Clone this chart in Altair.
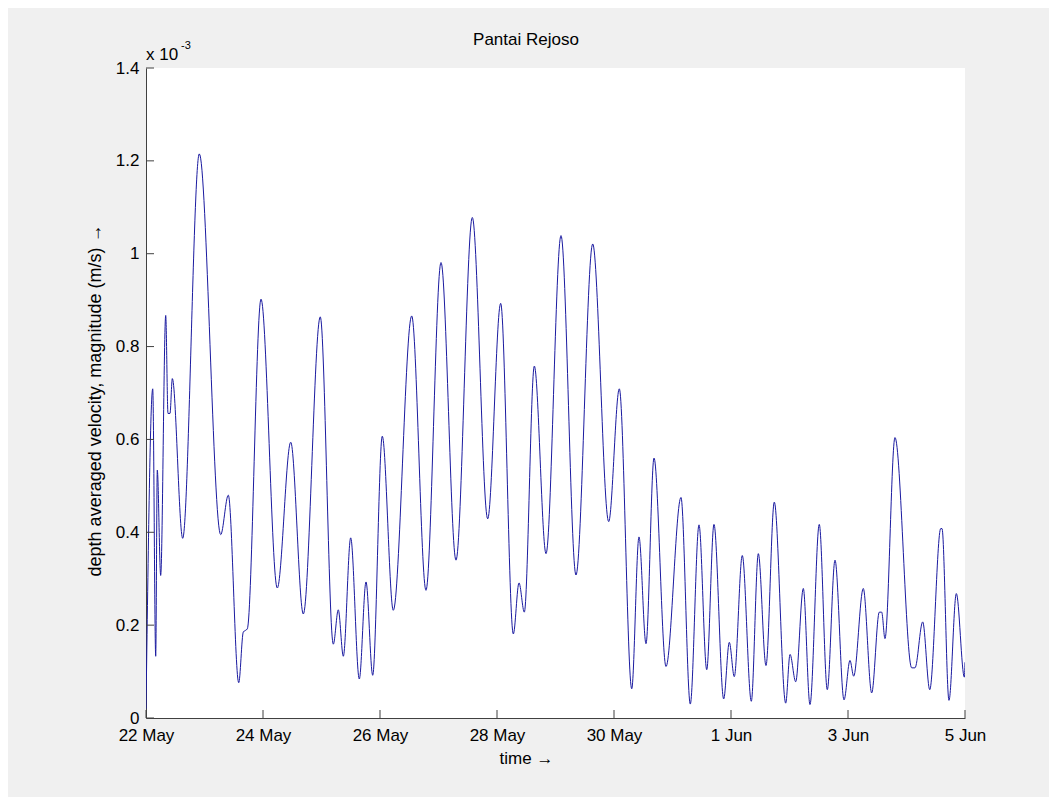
import altair as alt
import pandas as pd

# ---- data ----
start_date = "2010-05-22"
day_offset = [
    0.000, 0.115, 0.166, 0.193, 0.251, 0.337, 0.376, 0.410, 0.450, 0.627,
    0.911, 1.277, 1.407, 1.585, 1.663, 1.732, 1.966, 2.244, 2.474, 2.689,
    2.979, 3.202, 3.287, 3.373, 3.499, 3.646, 3.761, 3.875, 4.039, 4.227,
    4.542, 4.786, 5.043, 5.299, 5.578, 5.841, 6.063, 6.279, 6.376, 6.467,
    6.638, 6.838, 7.094, 7.350, 7.636, 7.909, 8.091, 8.303, 8.427, 8.547,
    8.684, 8.889, 9.145, 9.304, 9.453, 9.585, 9.709, 9.875, 9.971, 10.056,
    10.193, 10.347, 10.467, 10.598, 10.740, 10.935, 11.009, 11.106, 11.236, 11.350,
    11.509, 11.646, 11.778, 11.932, 12.034, 12.097, 12.261, 12.405, 12.535, 12.576,
    12.632, 12.803, 13.089, 13.145, 13.277, 13.397, 13.585, 13.607, 13.726, 13.852,
    13.989, 14.000,
]
velocity_e3 = [
    0.020, 0.709, 0.133, 0.534, 0.307, 0.867, 0.656, 0.656, 0.731, 0.387,
    1.215, 0.395, 0.480, 0.076, 0.185, 0.192, 0.902, 0.280, 0.594, 0.224,
    0.864, 0.159, 0.233, 0.133, 0.388, 0.084, 0.293, 0.092, 0.607, 0.232,
    0.866, 0.275, 0.981, 0.340, 1.078, 0.429, 0.893, 0.181, 0.291, 0.228,
    0.758, 0.354, 1.039, 0.308, 1.021, 0.423, 0.709, 0.063, 0.390, 0.160,
    0.560, 0.111, 0.475, 0.030, 0.416, 0.104, 0.417, 0.041, 0.163, 0.089,
    0.350, 0.036, 0.354, 0.113, 0.465, 0.032, 0.137, 0.078, 0.279, 0.029,
    0.417, 0.061, 0.340, 0.039, 0.124, 0.090, 0.279, 0.054, 0.228, 0.228,
    0.171, 0.604, 0.108, 0.108, 0.207, 0.061, 0.408, 0.408, 0.038, 0.268,
    0.088, 0.120,
]
y_tick_values = [0, 0.2, 0.4, 0.6, 0.8, 1.0, 1.2, 1.4]
x_tick_days = [0, 2, 4, 6, 8, 10, 12, 14]
title_text = "Pantai Rejoso"
x_title = "time \u2192"
y_title = "depth averaged velocity, magnitude (m/s) \u2192"
exponent_base = "x 10"
exponent_power = "-3"

# ---- tables ----
base = pd.Timestamp(start_date)
def iso(d):
    return (base + pd.Timedelta(days=d)).strftime("%Y-%m-%dT%H:%M:%S")

df = pd.DataFrame({"time": [iso(d) for d in day_offset], "v": velocity_e3})
xt = pd.DataFrame({"time": [iso(d) for d in x_tick_days]})
yt = pd.DataFrame({"v": y_tick_values})

def dt(d):
    t = base + pd.Timedelta(days=d)
    return alt.DateTime(year=t.year, month=t.month, date=t.day)

W, H = 819, 650
FONT = "Liberation Sans"
AX = "#404040"
FS = 17

x_scale = alt.Scale(domain=[dt(x_tick_days[0]), dt(x_tick_days[-1])])
y_scale = alt.Scale(domain=[0, 1.4], nice=False, zero=True)

x_axis = alt.Axis(
    values=[dt(d) for d in x_tick_days], format="%-d %b",
    labelFont=FONT, labelFontSize=FS, labelColor="black",
    labelFlush=False, labelOverlap=False, labelPadding=9,
    ticks=False, grid=False, domainColor=AX,
    title=x_title, titleFont=FONT, titleFontSize=FS,
    titleFontWeight="normal", titleColor="black", titlePadding=7,
    titleX=380,
)
y_axis = alt.Axis(
    values=y_tick_values, format=".1~f",
    labelFont=FONT, labelFontSize=FS, labelColor="black",
    labelFlush=False, labelOverlap=False, labelPadding=7,
    ticks=False, grid=False, domainColor=AX,
    title=y_title, titleFont=FONT, titleFontSize=18,
    titleFontWeight="normal", titleColor="black", titlePadding=11,
    titleY=332,
)

line = alt.Chart(df).mark_line(
    color="#1a1aa0", strokeWidth=1, interpolate="monotone", clip=True
).encode(
    x=alt.X("time:T", scale=x_scale, axis=x_axis),
    y=alt.Y("v:Q", scale=y_scale, axis=y_axis),
)

x_ticks = alt.Chart(xt).mark_rule(color=AX, strokeWidth=1).encode(
    x=alt.X("time:T", scale=x_scale, axis=x_axis),
    y=alt.value(H), y2=alt.value(H - 8),
)
y_ticks = alt.Chart(yt).mark_rule(color=AX, strokeWidth=1).encode(
    y=alt.Y("v:Q", scale=y_scale, axis=y_axis),
    x=alt.value(0), x2=alt.value(8),
)

title_mark = alt.Chart(pd.DataFrame({"s": [title_text]})).mark_text(
    align="center", baseline="middle", font=FONT, fontSize=FS, color="black"
).encode(text="s:N", x=alt.value(380), y=alt.value(-28))
exp_base = alt.Chart(pd.DataFrame({"s": [exponent_base]})).mark_text(
    align="left", baseline="middle", font=FONT, fontSize=FS, color="black"
).encode(text="s:N", x=alt.value(0), y=alt.value(-13))
exp_pow = alt.Chart(pd.DataFrame({"s": [exponent_power]})).mark_text(
    align="left", baseline="middle", font=FONT, fontSize=11, color="black"
).encode(text="s:N", x=alt.value(35), y=alt.value(-22))

chart = alt.layer(line, x_ticks, y_ticks, title_mark, exp_base, exp_pow).properties(
    width=W, height=H,
    autosize=alt.AutoSizeParams(type="none"),
    padding={"left": 138, "top": 60, "right": 84, "bottom": 79},
    background="#f0f0f0",
).configure_view(fill="white", stroke=None)

chart.save("out.html", embed_options={"renderer": "svg", "actions": False})
